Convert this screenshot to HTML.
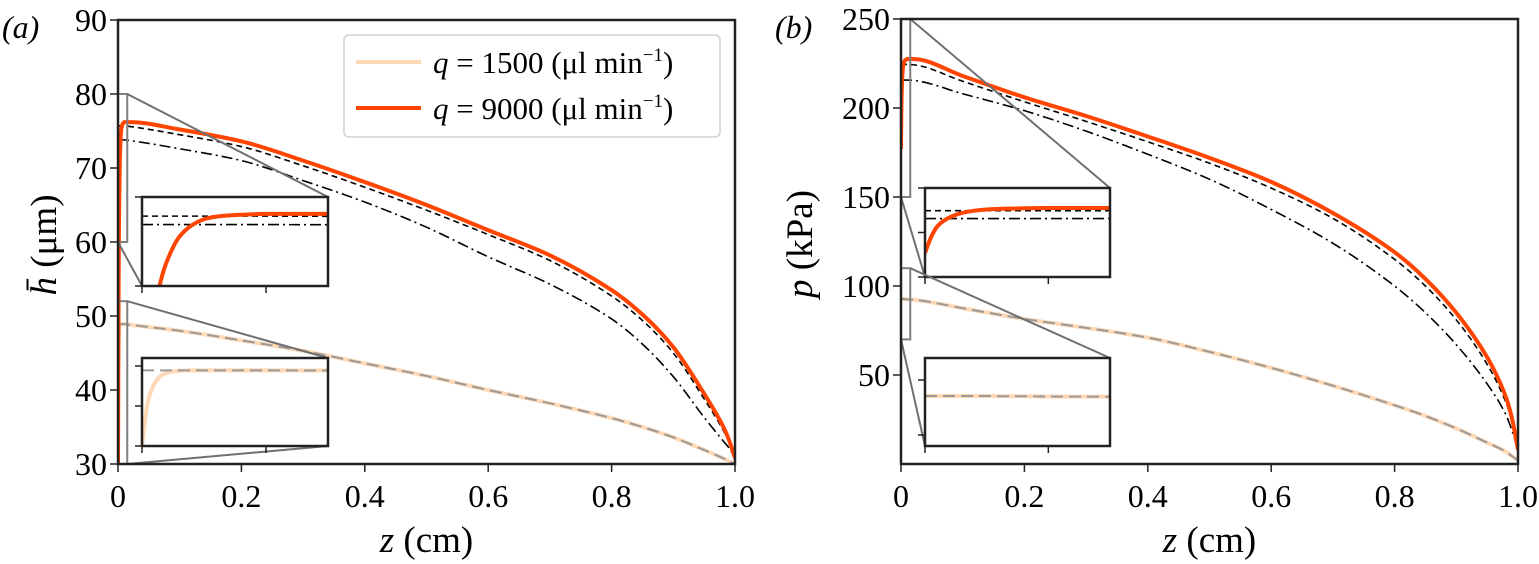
<!DOCTYPE html>
<html><head><meta charset="utf-8"><style>
html,body{margin:0;padding:0;background:#fff;overflow:hidden;width:1539px;height:564px;}
svg{display:block;}
text{font-family:"Liberation Serif","DejaVu Serif",serif;}
</style></head><body>
<svg id="fig" width="1539" height="564" viewBox="0 0 1539 564" font-family="Liberation Serif, serif" xmlns="http://www.w3.org/2000/svg" overflow="hidden"></svg>
<script>
// ---- data (panel a: h, panel b: p) ----
const zMain = [0, 0.0005, 0.001, 0.0015, 0.002, 0.003, 0.004, 0.005, 0.006, 0.008, 0.01, 0.02, 0.1, 0.2, 0.3, 0.4, 0.5, 0.6, 0.7, 0.8, 0.85, 0.9, 0.95, 0.98, 0.99, 1.0];
const hHigh   = [30, 44, 54, 61, 65.5, 71, 73.6, 75, 75.6, 76.0, 76.2, 76.2, 75.2, 73.6, 71, 68.1, 65, 61.6, 58.2, 53.5, 50.2, 45.8, 39.5, 35.2, 33.3, 30.8];
const hHighT1 = [75.7, 75.7, 75.7, 75.7, 75.7, 75.7, 75.7, 75.7, 75.7, 75.7, 75.7, 75.6, 74.5, 72.9, 70.3, 67.4, 64.3, 61, 57.5, 52.7, 49.4, 45.0, 38.8, 34.7, 33, 30.8];
const hHighT2 = [73.8, 73.8, 73.8, 73.8, 73.8, 73.8, 73.8, 73.8, 73.8, 73.8, 73.8, 73.7, 72.6, 71, 68.3, 65.4, 62, 58, 54.3, 49.6, 46.2, 41.8, 36.3, 33.2, 32.2, 30.8];
const hLow    = [30, 41.5, 45.5, 47.5, 48.3, 48.8, 48.9, 48.9, 48.9, 48.9, 48.9, 48.8, 48, 46.7, 45.3, 43.6, 41.9, 40, 38.2, 36.2, 35.0, 33.6, 31.9, 30.8, 30.4, 30];
const hLowRef = [48.9, 48.9, 48.9, 48.9, 48.9, 48.9, 48.9, 48.9, 48.9, 48.9, 48.9, 48.8, 48, 46.7, 45.3, 43.6, 41.9, 40, 38.2, 36.2, 35.0, 33.6, 31.9, 30.8, 30.4, 30];
const pHigh   = [177, 195, 207, 213, 217, 222, 224.5, 225.8, 226.5, 227.2, 227.5, 227.5, 218, 206, 195.5, 184, 172, 158.5, 141, 119, 104, 85, 60, 38, 26, 8];
const pHighT1 = [224.5, 224.5, 224.5, 224.5, 224.5, 224.5, 224.5, 224.5, 224.5, 224.5, 224.5, 224.3, 215, 203.5, 192.5, 181, 169, 155, 138, 115, 100, 81, 56, 35, 24, 8];
const pHighT2 = [215.7, 215.7, 215.7, 215.7, 215.7, 215.7, 215.7, 215.7, 215.7, 215.7, 215.7, 215.5, 208, 198.5, 187, 174, 160, 143, 124, 100, 85, 67, 45, 28, 19, 8];
const pLow    = [92.7, 92.7, 92.7, 92.7, 92.7, 92.7, 92.7, 92.7, 92.6, 92.6, 92.5, 92.3, 87.5, 81.5, 76.5, 71, 63, 54, 44, 33, 27, 20, 12, 7, 4.5, 2];
const xTicks = [0, 0.2, 0.4, 0.6, 0.8, 1.0];
const xTickLabels = ["0", "0.2", "0.4", "0.6", "0.8", "1.0"];
const hTicks = [30, 40, 50, 60, 70, 80, 90];
const pTicks = [50, 100, 150, 200, 250];

const NS = "http://www.w3.org/2000/svg";
const svg = document.getElementById("fig");
function mk(tag, attrs, parent, text){
  const e = document.createElementNS(NS, tag);
  for (const k in attrs) e.setAttribute(k, attrs[k]);
  if (text !== undefined) e.textContent = text;
  (parent || svg).appendChild(e);
  return e;
}
const defs = mk("defs", {});
let clipId = 0;
function scale(d0, d1, r0, r1){ return v => r0 + (v - d0) / (d1 - d0) * (r1 - r0); }
function pathD(xs, ys, X, Y){
  const px = xs.map(X), py = ys.map(Y), n = px.length;
  const d = [], m = new Array(n).fill(0);
  for (let i = 0; i < n - 1; i++) { const dx = px[i+1] - px[i]; d.push(dx === 0 ? 0 : (py[i+1] - py[i]) / dx); }
  m[0] = d[0]; m[n-1] = d[n-2];
  for (let i = 1; i < n - 1; i++) m[i] = (d[i-1] * d[i] <= 0) ? 0 : 2 / (1 / d[i-1] + 1 / d[i]);
  let s = "M" + px[0].toFixed(2) + "," + py[0].toFixed(2);
  for (let i = 0; i < n - 1; i++) {
    const h = px[i+1] - px[i];
    if (h === 0) { s += "L" + px[i+1].toFixed(2) + "," + py[i+1].toFixed(2); continue; }
    s += "C" + (px[i] + h/3).toFixed(2) + "," + (py[i] + m[i]*h/3).toFixed(2) + " " +
         (px[i+1] - h/3).toFixed(2) + "," + (py[i+1] - m[i+1]*h/3).toFixed(2) + " " +
         px[i+1].toFixed(2) + "," + py[i+1].toFixed(2);
  }
  return s;
}

const styles = {
  low:   {stroke: "#ffd8b5", "stroke-width": 4, fill: "none"},
  lowRef:{stroke: "#9a9a9a", "stroke-width": 2, fill: "none", "stroke-dasharray": "12,6"},
  high:  {stroke: "#ff4500", "stroke-width": 4, fill: "none"},
  t1:    {stroke: "#000", "stroke-width": 1.6, fill: "none", "stroke-dasharray": "6,4"},
  t2:    {stroke: "#000", "stroke-width": 1.6, fill: "none", "stroke-dasharray": "11,4,2,4"}
};

function drawSeries(g, list, X, Y){
  list.forEach(s => {
    const p = mk("path", Object.assign({d: pathD(zMain, s.data, X, Y)}, styles[s.style]), g);
    
    
  });
}

function panel(cfg){
  const g = mk("g", {});
  
  
  const X = scale(0, 1, cfg.x0, cfg.x1), Y = scale(cfg.ymin, cfg.ymax, 464, cfg.ytop);
  const cid = "c" + (clipId++);
  const cp = mk("clipPath", {id: cid}, defs);
  mk("rect", {x: cfg.x0, y: cfg.ytop, width: cfg.x1 - cfg.x0, height: 464 - cfg.ytop}, cp);
  const sg = mk("g", {"clip-path": "url(#" + cid + ")"}, g);
  drawSeries(sg, cfg.series, X, Y);

  cfg.insets.forEach(ins => {
    const ig = mk("g", {}, g);
    
    
    const bx0 = X(0), bx1 = X(0.015), by0 = Y(ins.ymin), by1 = Y(ins.ymax);
    mk("rect", {x: bx0, y: by1, width: bx1 - bx0, height: by0 - by1, fill: "none", stroke: "#808080", "stroke-width": 2}, ig);
    mk("line", {x1: bx1, y1: by1, x2: ins.ix1, y2: ins.iy0, stroke: "#707070", "stroke-width": 2}, ig);
    mk("line", {x1: ins.c2[0] === 1 ? bx1 : bx0, y1: by0, x2: ins.c2[1] === 1 ? ins.ix1 : ins.ix0, y2: ins.iy1, stroke: "#707070", "stroke-width": 2}, ig);
    mk("rect", {x: ins.ix0, y: ins.iy0, width: ins.ix1 - ins.ix0, height: ins.iy1 - ins.iy0, fill: "#fff"}, ig);
    const IX = scale(0, 0.015, ins.ix0, ins.ix1), IY = scale(ins.ymin, ins.ymax, ins.iy1, ins.iy0);
    const icid = "c" + (clipId++);
    const icp = mk("clipPath", {id: icid}, defs);
    mk("rect", {x: ins.ix0, y: ins.iy0, width: ins.ix1 - ins.ix0, height: ins.iy1 - ins.iy0}, icp);
    const isg = mk("g", {"clip-path": "url(#" + icid + ")"}, ig);
    drawSeries(isg, ins.series, IX, IY);
    mk("rect", {x: ins.ix0, y: ins.iy0, width: ins.ix1 - ins.ix0, height: ins.iy1 - ins.iy0, fill: "none", stroke: "#222", "stroke-width": 2.5}, ig);
    ins.yt.forEach(v => mk("line", {x1: ins.ix0 - 7, x2: ins.ix0, y1: IY(v), y2: IY(v), stroke: "#222", "stroke-width": 1.5}, ig));
    [0, 0.01].forEach(v => mk("line", {x1: IX(v), x2: IX(v), y1: ins.iy1, y2: ins.iy1 + 7, stroke: "#222", "stroke-width": 1.5}, ig));
  });

  const fr = mk("rect", {x: cfg.x0, y: cfg.ytop, width: cfg.x1 - cfg.x0, height: 464 - cfg.ytop, fill: "none", stroke: "#222", "stroke-width": 2.5}, g);
  
  
  xTicks.forEach((v, i) => {
    mk("line", {x1: X(v), x2: X(v), y1: 464, y2: 472, stroke: "#222", "stroke-width": 1.5}, g);
    const t = mk("text", {x: X(v), y: 507, "font-size": 32, "text-anchor": "middle", "font-family": "Liberation Serif, serif"}, g, xTickLabels[i]);
    
    
  });
  cfg.yticks.forEach(v => {
    mk("line", {x1: cfg.x0 - 8, x2: cfg.x0, y1: Y(v), y2: Y(v), stroke: "#222", "stroke-width": 1.5}, g);
    const t = mk("text", {x: cfg.x0 - 11, y: Y(v) + 11, "font-size": 32, "text-anchor": "end", "font-family": "Liberation Serif, serif"}, g, String(v));
    
    
  });
  const xl = mk("text", {x: (cfg.x0 + cfg.x1) / 2, y: 552, "font-size": 37, "text-anchor": "middle", "font-family": "Liberation Serif, serif"}, g);
  
  
  mk("tspan", {"font-style": "italic"}, xl, "z");
  mk("tspan", {}, xl, " (cm)");
  const pl = mk("text", {x: cfg.labX, y: 38, "font-size": 32, "font-style": "italic", "font-family": "Liberation Serif, serif"}, g, cfg.letter);
  
  
  return {g, X, Y};
}

panel({name: "panel-a-film-thickness", x0: 118, x1: 735, ytop: 20, ymin: 30, ymax: 90, yticks: hTicks, letter: "(a)", labX: 2,
  series: [{data: hLow, style: "low", name: "line-q1500"}, {data: hLowRef, style: "lowRef", name: "line-q1500-approx"},
           {data: hHighT1, style: "t1", name: "line-q9000-dashed"}, {data: hHighT2, style: "t2", name: "line-q9000-dashdot"},
           {data: hHigh, style: "high", name: "line-q9000"}],
  insets: [
    {name: "inset-a-upper", ymin: 60, ymax: 80, ix0: 142, ix1: 328, iy0: 197, iy1: 286, c2: [0, 0], yt: [60, 80],
     series: [{data: hHighT1, style: "t1", name: "inset-dashed"}, {data: hHighT2, style: "t2", name: "inset-dashdot"}, {data: hHigh, style: "high", name: "inset-q9000"}]},
    {name: "inset-a-lower", ymin: 30, ymax: 52, ix0: 142, ix1: 328, iy0: 358, iy1: 446, c2: [1, 1], yt: [30, 40, 50],
     series: [{data: hLow, style: "low", name: "inset-q1500"}, {data: hLowRef, style: "lowRef", name: "inset-q1500-approx"}]}
  ]});

panel({name: "panel-b-pressure", x0: 901, x1: 1518, ytop: 19, ymin: 0, ymax: 250, yticks: pTicks, letter: "(b)", labX: 775,
  series: [{data: pLow, style: "low", name: "line-q1500"}, {data: pLow, style: "lowRef", name: "line-q1500-approx"},
           {data: pHighT1, style: "t1", name: "line-q9000-dashed"}, {data: pHighT2, style: "t2", name: "line-q9000-dashdot"},
           {data: pHigh, style: "high", name: "line-q9000"}],
  insets: [
    {name: "inset-b-upper", ymin: 150, ymax: 250, ix0: 925, ix1: 1110, iy0: 188, iy1: 277, c2: [0, 0], yt: [150, 200, 250],
     series: [{data: pHighT1, style: "t1", name: "inset-dashed"}, {data: pHighT2, style: "t2", name: "inset-dashdot"}, {data: pHigh, style: "high", name: "inset-q9000"}]},
    {name: "inset-b-lower", ymin: 70, ymax: 110, ix0: 925, ix1: 1110, iy0: 358, iy1: 446, c2: [0, 0], yt: [75, 100],
     series: [{data: pLow, style: "low", name: "inset-q1500"}, {data: pLow, style: "lowRef", name: "inset-q1500-approx"}]}
  ]});

const yl1 = mk("text", {transform: "translate(56,245) rotate(-90)", "font-size": 37, "text-anchor": "middle", "font-family": "Liberation Serif, serif"});


mk("tspan", {"font-style": "italic"}, yl1, "h̄");
mk("tspan", {}, yl1, " (μm)");
const yl2 = mk("text", {transform: "translate(812,244) rotate(-90)", "font-size": 37, "text-anchor": "middle", "font-family": "Liberation Serif, serif"});


mk("tspan", {"font-style": "italic"}, yl2, "p");
mk("tspan", {}, yl2, " (kPa)");

const lg = mk("g", {});


mk("rect", {x: 344, y: 35, width: 376, height: 102, rx: 5, fill: "#fff", "fill-opacity": 0.85, stroke: "#d0d0d0", "stroke-width": 1.5}, lg);
const legItems = [["1500", "#ffd8b5", 62], ["9000", "#ff4500", 108]];
legItems.forEach(it => {
  const e = mk("g", {}, lg);
  
  
  mk("line", {x1: 356, x2: 421, y1: it[2], y2: it[2], stroke: it[1], "stroke-width": 4}, e);
  const t = mk("text", {x: 433, y: it[2] + 11, "font-size": 31, "font-family": "Liberation Serif, serif"}, e);
  mk("tspan", {"font-style": "italic"}, t, "q");
  mk("tspan", {}, t, " = " + it[0] + " (μl min");
  mk("tspan", {"font-size": 19, dy: -12}, t, "−1");
  mk("tspan", {dy: 12}, t, ")");
});
</script>
</body></html>
